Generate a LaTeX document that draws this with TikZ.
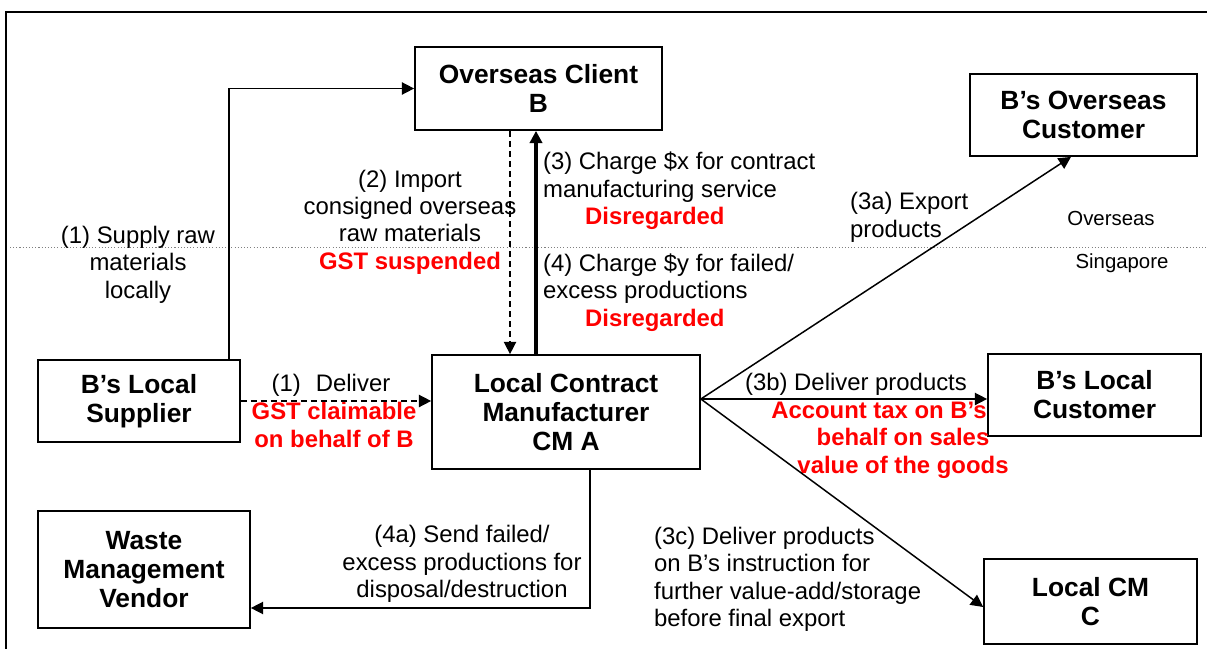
\documentclass[tikz,border=0pt]{standalone}
\usepackage{fontspec}
\setmainfont{Liberation Sans}
\usetikzlibrary{arrows.meta}

\begin{document}
\begin{tikzpicture}[x=0.02cm, y=-0.02cm, >={Triangle[length=7pt,width=7pt]},
            every node/.style={inner sep=1pt},
            box/.style={draw, line width=1pt, align=center, inner sep=2pt, font=\fontsize{15}{16.5}\selectfont\bfseries},
            lbl/.style={font=\fontsize{13.6}{15.6}\selectfont},
            tax/.style={text=red, font=\fontsize{13.6}{15.6}\selectfont\bfseries},
            zone/.style={font=\fontsize{11.6}{13}\selectfont},
            dashline/.style={dash pattern=on 3.4pt off 2.3pt}]
                \useasboundingbox (0,0) rectangle (1207,649);
                \draw[line width=1pt] (6,649) -- (6,12) -- (1207,12);
                \draw[gray, dash pattern=on 0.6pt off 1.2pt] (10,247) -- (1207,247);

                \node[box, minimum width=4.94cm, minimum height=1.66cm] (clientB) at (538.5,88.5) {Overseas Client\\B};
                \node[box, minimum width=4.54cm, minimum height=1.64cm] (overseasCust) at (1083.5,115) {B’s Overseas\\Customer};
                \node[box, minimum width=4.04cm, minimum height=1.64cm] (supplier) at (139,401) {B’s Local\\Supplier};
                \node[box, minimum width=5.36cm, minimum height=2.28cm] (cmA) at (566,412) {Local Contract\\Manufacturer\\CM A};
                \node[box, minimum width=4.26cm, minimum height=1.64cm] (localCust) at (1094.5,395) {B’s Local\\Customer};
                \node[box, minimum width=4.24cm, minimum height=2.34cm] (waste) at (144,569.5) {Waste\\Management\\Vendor};
                \node[box, minimum width=4.26cm, minimum height=1.7cm] (cmC) at (1090.5,601.5) {Local CM\\C};

                \node[lbl, align=center] (supplyLbl) at (138,264.5) {(1) Supply raw\\materials\\locally};
                \node[lbl, align=center] (importLbl) at (410,222) {(2) Import\\consigned overseas\\raw materials\\\textcolor{red}{\bfseries GST suspended}};
                \node[lbl, align=left, anchor=west] (chargeXLbl) at (541,191) {(3) Charge \$x for contract\\manufacturing service\\\hspace*{0.84cm}\textcolor{red}{\bfseries Disregarded}};
                \node[lbl, align=left, anchor=west] (chargeYLbl) at (541,292.5) {(4) Charge \$y for failed/\\excess productions\\\hspace*{0.84cm}\textcolor{red}{\bfseries Disregarded}};
                \node[lbl, align=left, anchor=west] (exportLbl) at (848,217.5) {(3a) Export\\products};
                \node[zone] (overseasLbl) at (1111,218) {Overseas};
                \node[zone] (singaporeLbl) at (1122,263) {Singapore};
                \node[lbl] (deliverLbl) at (331,385) {(1)\hspace{0.3cm}Deliver};
                \node[tax, align=center] (claimLbl) at (334,425) {GST claimable\\on behalf of B};
                \node[lbl] (deliverProdLbl) at (856,384) {(3b) Deliver products};
                \node[tax, align=center] (accountLbl) at (903,440) {Account tax on B’s\hspace*{0.96cm}\\behalf on sales\\value of the goods};
                \node[lbl, align=center] (wasteLbl) at (462,564) {(4a) Send failed/\\excess productions for\\disposal/destruction};
                \node[lbl, align=left, anchor=west] (furtherLbl) at (652,579.5) {(3c) Deliver products\\on B’s instruction for\\further value-add/storage\\before final export};

            \begin{scope}[->, line width=0.85pt]
                \draw ([xshift=-0.24cm]supplier.north east) |- (clientB.west);
                \draw[dashline] ([xshift=-0.57cm]clientB.south) -- ([xshift=-0.57cm]clientB.south |- cmA.north);
                \draw[line width=1.8pt] ([xshift=-0.05cm]clientB.south |- cmA.north) -- ([xshift=-0.05cm]clientB.south);
                \draw[dashline] (supplier.east) -- (supplier.east -| cmA.west);
                \coordinate (hub) at ([yshift=0.26cm]cmA.east);
                \draw (hub) -- ([xshift=-0.25cm]overseasCust.south);
                \draw (hub) -- (hub -| localCust.west);
                \draw (hub) -- ([yshift=-0.11cm]cmC.west);
                \draw ([xshift=0.48cm]cmA.south) |- ([yshift=-0.77cm]waste.east);
            \end{scope}
        \end{tikzpicture}
\end{document}
